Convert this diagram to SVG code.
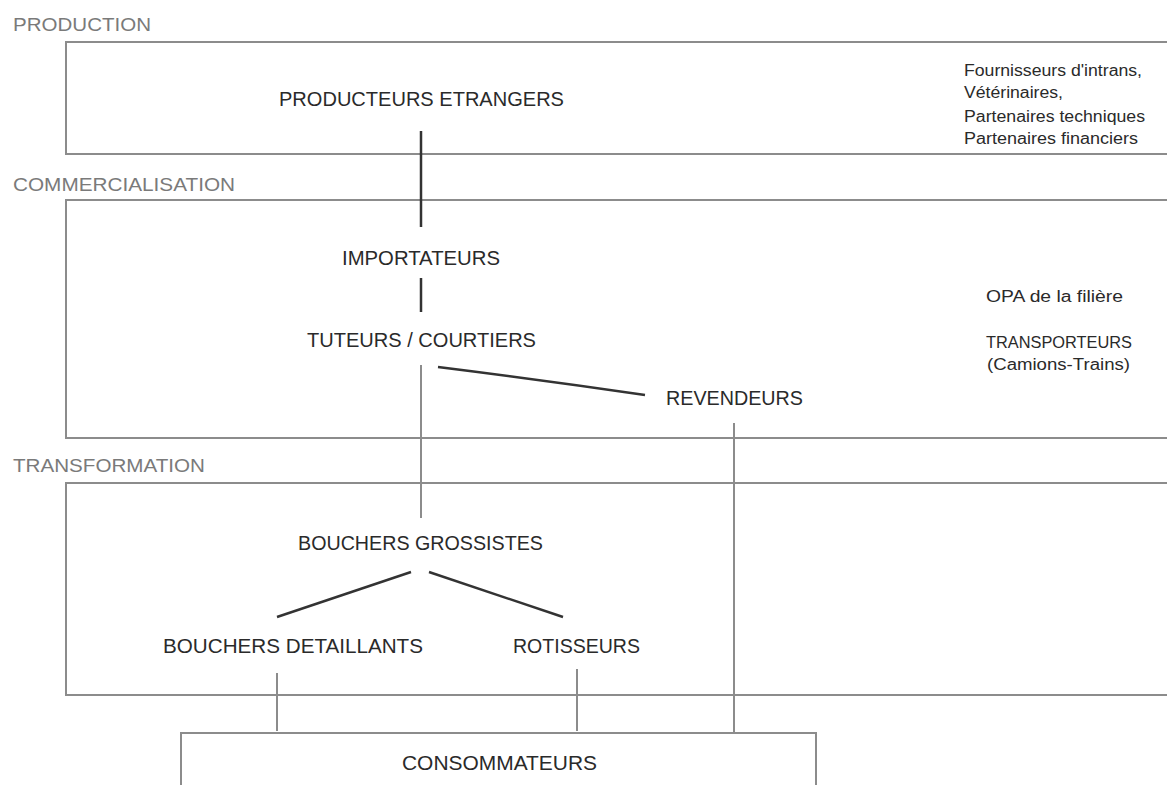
<svg xmlns="http://www.w3.org/2000/svg" width="1167" height="785" viewBox="0 0 1167 785">
<style>
.bg{fill:#ffffff}
.box{fill:none;stroke:#8c8c8c;stroke-width:2}
.sec{font-family:"Liberation Sans",Arial,sans-serif;font-size:19px;fill:#7a7a7a}
.node{font-family:"Liberation Sans",Arial,sans-serif;font-size:20px;fill:#2a2a2a}
.side{font-family:"Liberation Sans",Arial,sans-serif;font-size:16px;fill:#2a2a2a}
.dark{stroke:#333333;stroke-width:2.5;fill:none}
.gray{stroke:#8c8c8c;stroke-width:2;fill:none}
</style>
<rect class="bg" x="0" y="0" width="1167" height="785"/>
<g id="sections">
<text class="sec" x="13" y="31" textLength="138" lengthAdjust="spacingAndGlyphs">PRODUCTION</text>
<rect class="box" x="66" y="42" width="1130" height="112"/>
<text class="sec" x="13" y="191" textLength="222" lengthAdjust="spacingAndGlyphs">COMMERCIALISATION</text>
<rect class="box" x="66" y="200" width="1130" height="238"/>
<text class="sec" x="13" y="472" textLength="192" lengthAdjust="spacingAndGlyphs">TRANSFORMATION</text>
<rect class="box" x="66" y="483" width="1130" height="212"/>
</g>
<g id="connectors">
<line class="dark" x1="421" y1="131" x2="421" y2="227"/>
<line class="dark" x1="421" y1="278" x2="421" y2="312"/>
<line class="gray" x1="421" y1="365" x2="421" y2="518"/>
<path class="dark" d="M438 367 Q542 380 645 395"/>
<line class="gray" x1="734" y1="423" x2="734" y2="732"/>
<line class="dark" x1="411" y1="572" x2="277" y2="617"/>
<line class="dark" x1="429" y1="572" x2="563" y2="617"/>
<line class="gray" x1="277" y1="673" x2="277" y2="731"/>
<line class="gray" x1="577" y1="669" x2="577" y2="731"/>
</g>
<g id="producteurs-etrangers"><text class="node" x="279" y="106" textLength="285" lengthAdjust="spacingAndGlyphs">PRODUCTEURS ETRANGERS</text></g>
<g id="fournisseurs">
<text class="side" x="964" y="76" textLength="178" lengthAdjust="spacingAndGlyphs">Fournisseurs d'intrans,</text>
<text class="side" x="964" y="98" textLength="99" lengthAdjust="spacingAndGlyphs">Vétérinaires,</text>
<text class="side" x="964" y="122" textLength="181" lengthAdjust="spacingAndGlyphs">Partenaires techniques</text>
<text class="side" x="964" y="144" textLength="174" lengthAdjust="spacingAndGlyphs">Partenaires financiers</text>
</g>
<g id="importateurs"><text class="node" x="342" y="265" textLength="158" lengthAdjust="spacingAndGlyphs">IMPORTATEURS</text></g>
<g id="tuteurs-courtiers"><text class="node" x="307" y="347" textLength="229" lengthAdjust="spacingAndGlyphs">TUTEURS / COURTIERS</text></g>
<g id="revendeurs"><text class="node" x="666" y="405" textLength="137" lengthAdjust="spacingAndGlyphs">REVENDEURS</text></g>
<g id="opa"><text class="side" x="986" y="302" textLength="137" lengthAdjust="spacingAndGlyphs">OPA de la filière</text></g>
<g id="transporteurs">
<text class="side" x="986" y="348" textLength="146" lengthAdjust="spacingAndGlyphs">TRANSPORTEURS</text>
<text class="side" x="987" y="370" textLength="143" lengthAdjust="spacingAndGlyphs">(Camions-Trains)</text>
</g>
<g id="bouchers-grossistes"><text class="node" x="298" y="550" textLength="245" lengthAdjust="spacingAndGlyphs">BOUCHERS GROSSISTES</text></g>
<g id="bouchers-detaillants"><text class="node" x="163" y="653" textLength="260" lengthAdjust="spacingAndGlyphs">BOUCHERS DETAILLANTS</text></g>
<g id="rotisseurs"><text class="node" x="513" y="653" textLength="127" lengthAdjust="spacingAndGlyphs">ROTISSEURS</text></g>
<g id="consommateurs">
<rect class="box" x="181" y="733" width="635" height="70"/>
<text class="node" x="402" y="770" textLength="195" lengthAdjust="spacingAndGlyphs">CONSOMMATEURS</text>
</g>
</svg>
